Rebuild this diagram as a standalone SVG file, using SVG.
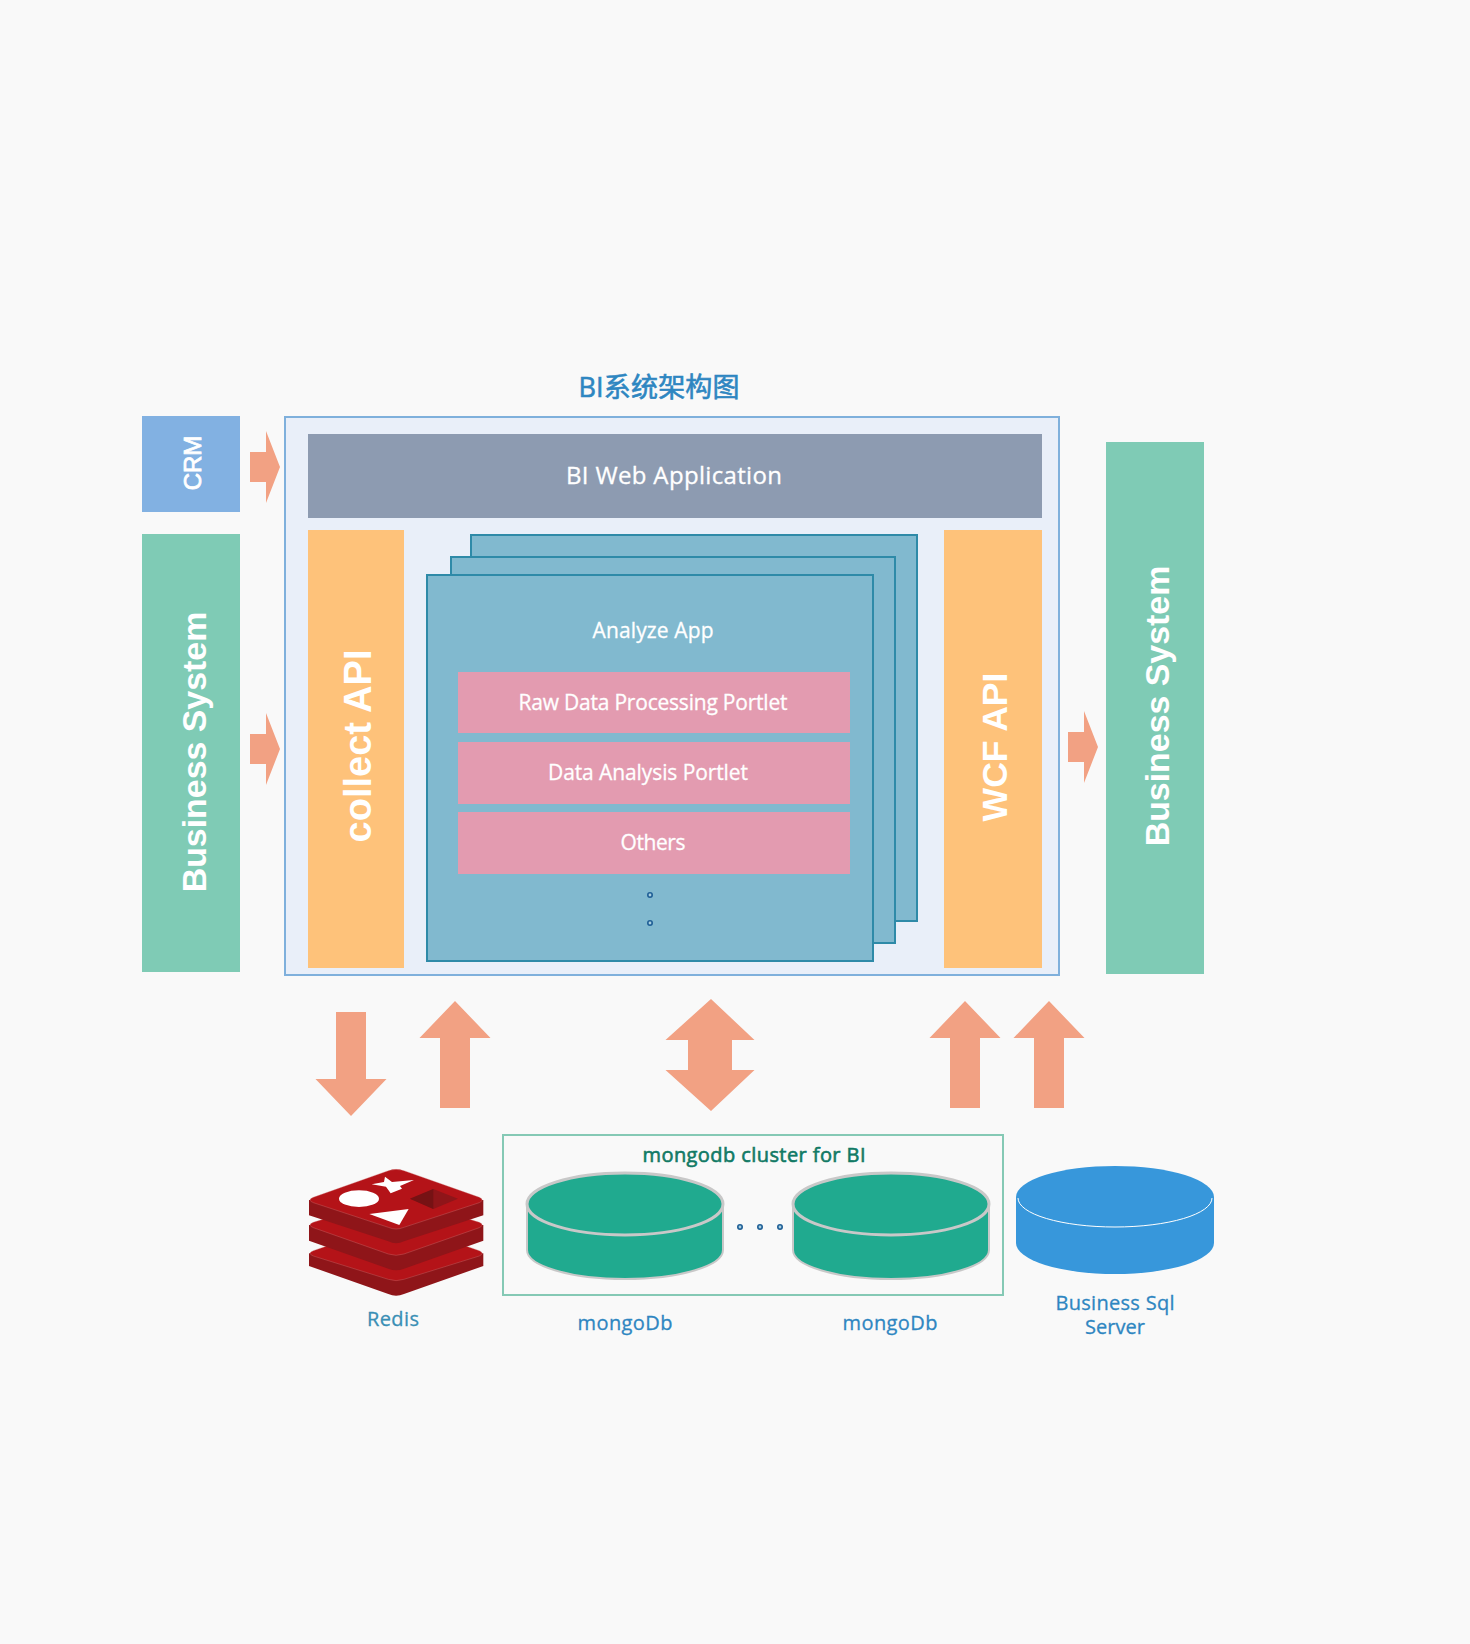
<svg xmlns="http://www.w3.org/2000/svg" width="1470" height="1644" viewBox="0 0 1470 1644">
<style>
.l{font-family:"Open Sans","Noto Sans","Noto Sans CJK SC",sans-serif;text-anchor:middle;stroke-width:.3}
.w{fill:#fff;stroke:#fff;font-size:21px}
.b{fill:#2e86c1;stroke:#2e86c1;font-size:20px}
.v{font-family:"Liberation Sans",Arial,sans-serif;fill:#fff;font-weight:700;text-anchor:middle}
.arrow{fill:#f2a183}
.stack{fill:#81b9cf;stroke:#2e8aa8;stroke-width:2}
.pink{fill:#e39bb0}
.db{fill:#20aa8f;stroke:#c8c8c8;stroke-width:3}
.dbs{fill:#20aa8f;stroke:#c8c8c8;stroke-width:2}
.dot{fill:#a8cfe0;stroke:#1f5f96;stroke-width:1.6}
</style>
<rect width="1470" height="1644" fill="#f9f9f9"/>
<text class="l" x="659" y="397" font-size="27" fill="#2e86c1" stroke="#2e86c1" style="stroke-width:.6" textLength="161">BI系统架构图</text>
<g id="bi-container"><rect x="285" y="417" width="774" height="558" fill="#e9eff9" stroke="#7fb0dc" stroke-width="2"/></g>
<g id="crm"><rect x="142" y="416" width="98" height="96" fill="#82b1e2"/><text class="v" transform="translate(201 463) rotate(-90)" font-size="24" style="font-weight:400;stroke:#fff;stroke-width:.8">CRM</text></g>
<g id="business-left"><rect x="142" y="534" width="98" height="438" fill="#7fcbb5"/><text class="v" transform="translate(206 752) rotate(-90)" font-size="33.9">Business System</text></g>
<g id="business-right"><rect x="1106" y="442" width="98" height="532" fill="#7fcbb5"/><text class="v" transform="translate(1169 706) rotate(-90)" font-size="33.9">Business System</text></g>
<g id="web-app"><rect x="308" y="434" width="734" height="84" fill="#8d9bb1"/><text class="l w" x="674" y="484" style="font-size:24px" textLength="216">BI Web Application</text></g>
<g id="collect-api"><rect x="308" y="530" width="96" height="438" fill="#fec27a"/><text class="v" transform="translate(371 746) rotate(-90)" font-size="38">collect API</text></g>
<g id="wcf-api"><rect x="944" y="530" width="98" height="438" fill="#fec27a"/><text class="v" transform="translate(1007 747) rotate(-90)" font-size="35.6">WCF API</text></g>
<g id="analyze-app">
<rect class="stack" x="471" y="535" width="446" height="386"/>
<rect class="stack" x="451" y="557" width="444" height="386"/>
<rect class="stack" x="427" y="575" width="446" height="386"/>
<text class="l w" x="653" y="638" textLength="121">Analyze App</text>
<circle class="dot" cx="650" cy="895" r="2.2"/>
<circle class="dot" cx="650" cy="923" r="2.2"/>
</g>
<g id="portlet-raw"><rect class="pink" x="458" y="672" width="392" height="61"/><text class="l w" x="653" y="710" textLength="269">Raw Data Processing Portlet</text></g>
<g id="portlet-analysis"><rect class="pink" x="458" y="742" width="392" height="62"/><text class="l w" x="648" y="780" textLength="200">Data Analysis Portlet</text></g>
<g id="portlet-others"><rect class="pink" x="458" y="812" width="392" height="62"/><text class="l w" x="653" y="850" textLength="65">Others</text></g>
<g id="connectors">
<path class="arrow" d="M250 452H266V431L280 467L266 503V482H250Z"/>
<path class="arrow" d="M250 734H266V713L280 749L266 785V764H250Z"/>
<path class="arrow" d="M1068 732H1084V711L1098 747L1084 783V762H1068Z"/>
<path class="arrow" d="M336 1012H366V1079H386.500L351 1116L315.500 1079H336Z"/>
<path class="arrow" d="M455 1001L490.500 1038H470V1108H440V1038H419.500Z"/>
<path class="arrow" d="M711 999L754.500 1040H732V1070H754.500L711 1111L665.500 1070H688V1040H665.500Z"/>
<path class="arrow" d="M965 1001L1000.500 1038H980V1108H950V1038H929.500Z"/>
<path class="arrow" d="M1049 1001L1084.500 1038H1064V1108H1034V1038H1013.500Z"/>
</g>
<g id="redis" transform="translate(300 1140) scale(.3333)">
<path fill="#8f1519" d="M27 340V378L265 462Q288 472 312 462L550 378V340Z"/>
<path fill="#b41318" stroke="#d08080" stroke-width="1" d="M40 332L265 254Q288 248 312 254L538 332Q555 340 538 348L312 418Q288 426 265 418L40 348Q20 340 40 332Z"/>
<path fill="#8f1519" d="M27 255V302L265 386Q288 396 312 386L550 302V255Z"/>
<path fill="#b41318" stroke="#d08080" stroke-width="1" d="M40 247L265 178Q288 172 312 178L538 247Q555 255 538 263L312 342Q288 350 265 342L40 263Q20 255 40 247Z"/>
<path fill="#8f1519" d="M27 180V226L265 304Q288 316 312 304L550 226V180Z"/>
<path fill="#b41318" stroke="#d08080" stroke-width="1" d="M40 172L265 92Q288 84 312 92L538 172Q555 180 538 188L312 262Q288 272 265 262L40 188Q20 180 40 172Z"/>
<path fill="#fff" d="M255 110L276 126L342 120L300 138L306 146L272 160L258 140L215 133L252 126Z"/>
<ellipse cx="177" cy="176" rx="60" ry="25" fill="#fff"/>
<path fill="#fff" d="M208 222L326 207L298 255Z"/>
<path fill="#8f1519" d="M330 176L400 147L474 176L400 207Z"/>
<path fill="#761214" d="M330 176L400 147V207Z"/>
</g>
<text class="l b" x="393" y="1326" style="fill:#3a8fb5;stroke:#3a8fb5" textLength="52">Redis</text>
<g id="mongo-cluster"><rect x="503" y="1135" width="500" height="160" fill="none" stroke="#85c9b5" stroke-width="2"/><text class="l" x="754" y="1162" font-size="20" fill="#117a65" stroke="#117a65" style="stroke-width:.6" textLength="223">mongodb cluster for BI</text>
<circle class="dot" cx="740" cy="1227" r="2.2"/><circle class="dot" cx="760" cy="1227" r="2.2"/><circle class="dot" cx="780" cy="1227" r="2.2"/></g>
<g id="mongo-1"><path class="dbs" d="M527 1204V1250A98 29 0 0 0 723 1250V1204"/><ellipse class="db" cx="625" cy="1204" rx="98" ry="31"/><text class="l b" x="625" y="1330" textLength="95">mongoDb</text></g>
<g id="mongo-2"><path class="dbs" d="M793 1204V1250A98 29 0 0 0 989 1250V1204"/><ellipse class="db" cx="891" cy="1204" rx="98" ry="31"/><text class="l b" x="890" y="1330" textLength="95">mongoDb</text></g>
<g id="sql-server"><path fill="#3797db" d="M1016 1197V1243A99 31 0 0 0 1214 1243V1197Z"/><ellipse cx="1115" cy="1197" rx="99" ry="31" fill="#3797db"/><path d="M1018 1198A97 29 0 0 0 1212 1198" fill="none" stroke="#fff" stroke-width="1"/>
<text class="l b" x="1115" y="1310" textLength="119">Business Sql</text><text class="l b" x="1115" y="1334" textLength="60">Server</text></g>
</svg>
